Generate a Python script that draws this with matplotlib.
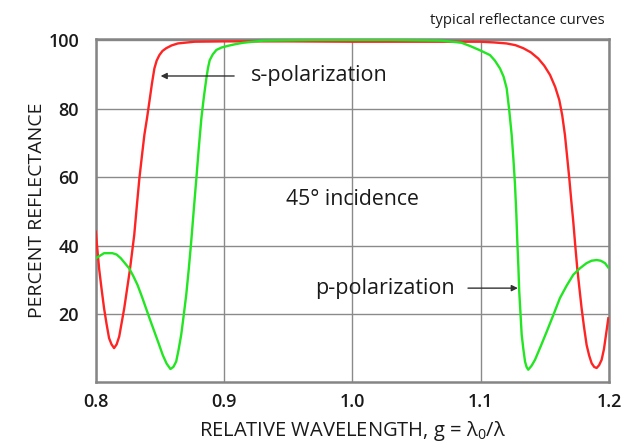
import matplotlib
matplotlib.use("Agg")
import matplotlib.pyplot as plt

plt.rcParams['font.family'] = ['Open Sans', 'DejaVu Sans']
plt.rcParams['mathtext.fontset'] = 'custom'
plt.rcParams['mathtext.rm'] = 'Open Sans'
plt.rcParams['mathtext.it'] = 'Open Sans'

# s-polarization (red)
s_x = [0.800, 0.8013, 0.8026, 0.8045, 0.8065, 0.8085, 0.8104, 0.8123, 0.8143,
       0.8163, 0.8183, 0.8222, 0.8244, 0.8266, 0.8283, 0.830, 0.832, 0.834,
       0.836, 0.8379, 0.840, 0.8418, 0.8438, 0.8457, 0.8475, 0.8496, 0.852,
       0.8549, 0.859, 0.864, 0.877, 0.90, 0.95, 1.00, 1.05, 1.0994, 1.11,
       1.12, 1.127, 1.1332, 1.139, 1.1448, 1.1495, 1.154, 1.158, 1.1612,
       1.1635, 1.1656, 1.1673, 1.169, 1.1705, 1.1721, 1.1736, 1.1752, 1.1769,
       1.1786, 1.1805, 1.1825, 1.1845, 1.1864, 1.1884, 1.1903, 1.1922, 1.1942,
       1.196, 1.1976, 1.1994]
s_y = [44.1, 38.8, 33.4, 27.5, 21.7, 17.0, 13.0, 11.2, 10.1,
       11.2, 13.5, 21.7, 27.3, 32.9, 38.0, 43.1, 51.5, 59.6,
       66.2, 72.3, 77.3, 82.0, 87.3, 91.7, 94.0, 95.6, 96.8,
       97.6, 98.4, 99.0, 99.5, 99.6, 99.6, 99.5, 99.5, 99.5, 99.3,
       99.0, 98.5, 97.6, 96.4, 94.6, 92.5, 89.8, 86.3, 82.5,
       78.0, 72.3, 66.0, 59.6, 53.3, 47.0, 40.2, 33.4, 27.5,
       21.7, 16.2, 11.0, 7.9, 5.7, 4.6, 4.3, 5.1, 6.7,
       9.8, 14.0, 18.8]

# p-polarization (green)
p_x = [0.800, 0.8065, 0.813, 0.8163, 0.8196, 0.826, 0.8293, 0.8326, 0.8359,
       0.8392, 0.8424, 0.8457, 0.849, 0.8522, 0.8552, 0.8582, 0.8605, 0.8627,
       0.8645, 0.8666, 0.8685, 0.8705, 0.8725, 0.8744, 0.8764, 0.8784, 0.8803,
       0.8823, 0.8843, 0.8862, 0.8875, 0.8888, 0.8912, 0.894, 0.898, 0.9031,
       0.909, 0.915, 0.93, 0.97, 1.00, 1.03, 1.07, 1.085, 1.092, 1.0994,
       1.1072, 1.111, 1.115, 1.1178, 1.1202, 1.1222, 1.1241, 1.1255, 1.1267,
       1.1277, 1.1285, 1.1293, 1.130, 1.131, 1.1319, 1.1332, 1.1345, 1.1357,
       1.137, 1.1395, 1.1423, 1.1468, 1.1514, 1.1565, 1.1617, 1.1669, 1.1721,
       1.1773, 1.1825, 1.1864, 1.1903, 1.1935, 1.1968, 1.1994]
p_y = [36.3, 37.8, 37.8, 37.4, 36.3, 33.4, 31.1, 28.5, 25.2,
       21.7, 18.3, 14.9, 11.5, 8.1, 5.6, 4.0, 4.6, 6.2,
       9.5, 14.0, 19.5, 25.6, 33.2, 41.2, 50.5, 59.6, 68.5,
       77.1, 83.5, 88.8, 91.9, 94.1, 95.8, 97.1, 97.8, 98.3,
       98.8, 99.2, 99.8, 100.0, 100.0, 100.0, 99.8, 99.2, 98.2, 97.0,
       95.6, 94.0, 91.7, 89.3, 85.9, 79.5, 72.3, 65.0, 57.7,
       49.5, 41.2, 34.0, 26.6, 20.0, 14.0, 9.8, 6.2, 4.6,
       3.8, 4.9, 6.7, 10.7, 14.9, 19.7, 24.7, 28.3, 31.5,
       33.4, 34.9, 35.6, 35.8, 35.6, 34.9, 33.6]

x_ticks = [0.8, 0.9, 1.0, 1.1, 1.2]
x_tick_labels = ['0.8', '0.9', '1.0', '1.1', '1.2']
y_ticks = [20, 40, 60, 80, 100]

fig = plt.figure(figsize=(6.34, 4.48), dpi=100)
ax = fig.add_axes([0.151, 0.148, 0.8097, 0.765])

ax.plot(s_x, s_y, color='#ff2424', lw=1.7, zorder=3, solid_joinstyle='round')
ax.plot(p_x, p_y, color='#22e622', lw=1.7, zorder=3, solid_joinstyle='round')

ax.set_xlim(0.8, 1.2)
ax.set_ylim(0.3, 100.3)
ax.set_xticks(x_ticks)
ax.set_xticklabels(x_tick_labels)
ax.set_yticks(y_ticks)
ax.grid(True, color='#8a8a8a', lw=1.0)
ax.set_axisbelow(True)
ax.tick_params(length=0, labelsize=13, colors='#1a1a1a', pad=8)
ax.tick_params(axis='y', pad=12)
for lab in ax.get_xticklabels() + ax.get_yticklabels():
    lab.set_fontweight('semibold')
for sp in ax.spines.values():
    sp.set_color('#858585')
    sp.set_linewidth(1.8)

ax.set_ylabel('PERCENT REFLECTANCE', fontsize=14, color='#1a1a1a', labelpad=2)
ax.set_xlabel('RELATIVE WAVELENGTH, g = λ$_0$/λ', fontsize=14.5, color='#1a1a1a', labelpad=6)

fig.text(0.953, 0.955, 'typical reflectance curves', ha='right', va='center',
         fontsize=10.7, color='#1a1a1a')

ax.text(0.921, 89.5, 's-polarization', fontsize=15.5, va='center', ha='left', color='#1a1a1a')
ax.annotate('', xy=(0.8484, 89.5), xytext=(0.910, 89.5),
            arrowprops=dict(arrowstyle='-|>', color='#333333', lw=1, mutation_scale=9))

ax.text(1.0, 53.5, '45° incidence', fontsize=15.3, va='center', ha='center', color='#1a1a1a')

ax.text(1.080, 27.6, 'p-polarization', fontsize=15.5, va='center', ha='right', color='#1a1a1a')
ax.annotate('', xy=(1.1311, 27.6), xytext=(1.0879, 27.6),
            arrowprops=dict(arrowstyle='-|>', color='#333333', lw=1, mutation_scale=9))

fig.savefig('out.png', dpi=100)
